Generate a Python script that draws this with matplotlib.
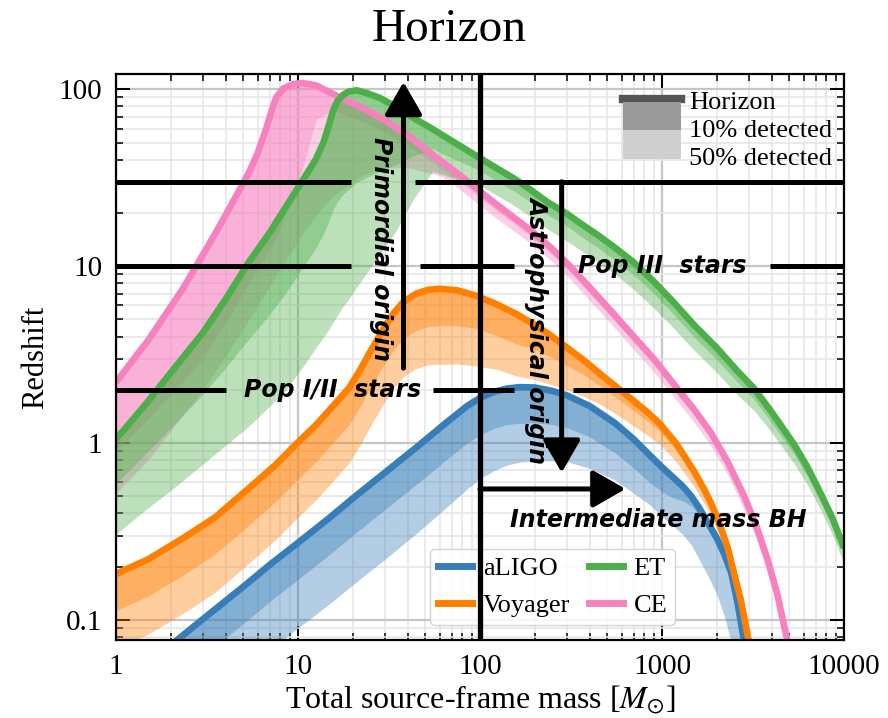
import matplotlib
matplotlib.use('Agg')
import matplotlib.pyplot as plt
from matplotlib.lines import Line2D
from matplotlib.patches import Patch, Rectangle
from matplotlib.legend_handler import HandlerPatch

plt.rcParams['font.family'] = ['Liberation Serif', 'DejaVu Serif']
plt.rcParams['mathtext.fontset'] = 'stix'

# ---------------- data ----------------
detectors = ['aLIGO', 'Voyager', 'ET', 'CE']
colors = {'aLIGO': '#377eb8', 'Voyager': '#ff7f00', 'ET': '#4daf4a', 'CE': '#f781bf'}

aligo_mass = [2, 3, 5, 7, 10, 15, 20, 30, 45, 65, 85, 100, 120, 140, 165, 200, 250, 300, 400, 550, 700, 850,
              1000, 1150, 1300, 1450, 1600, 1800, 2000, 2200, 2400, 2600, 2800, 3000]
aligo_horizon = [0.072, 0.101, 0.154, 0.205, 0.273, 0.38, 0.487, 0.68, 0.95, 1.30, 1.62, 1.80, 1.95, 2.03, 2.07,
                 2.06, 1.97, 1.86, 1.62, 1.30, 1.05, 0.86, 0.73, 0.64, 0.57, 0.50, 0.43, 0.35, 0.29, 0.235, 0.185,
                 0.125, 0.08, 0.058]
aligo_det10 = [0.0444, 0.0623, 0.095, 0.127, 0.169, 0.235, 0.30, 0.42, 0.586, 0.80, 1.0, 1.11, 1.21, 1.27, 1.29,
               1.30, 1.27, 1.22, 1.08, 0.88, 0.72, 0.60, 0.53, 0.49, 0.47, 0.44, 0.39, 0.32, 0.265, 0.215, 0.17,
               0.115, 0.074, 0.054]
aligo_det50 = [0.024, 0.0335, 0.051, 0.068, 0.090, 0.124, 0.158, 0.22, 0.31, 0.43, 0.55, 0.63, 0.70, 0.75, 0.78,
               0.79, 0.795, 0.785, 0.72, 0.62, 0.52, 0.45, 0.385, 0.34, 0.305, 0.265, 0.22, 0.175, 0.14, 0.105,
               0.075, 0.055, 0.04, 0.03]

voyager_mass = [1, 1.5, 2.34, 3.5, 5.39, 7.5, 9.78, 12.6, 15, 19.1, 22, 25, 29, 33.4, 38, 44.7, 52, 60, 75, 95.6,
                125, 159, 197, 245, 303, 370, 460, 570, 699, 840, 984, 1200, 1496, 1700, 1855, 2050, 2300, 2500,
                2710, 2850, 3000]
voyager_horizon = [0.182, 0.22, 0.29, 0.38, 0.557, 0.75, 0.987, 1.27, 1.55, 2.05, 2.6, 3.3, 4.3, 5.4, 6.3, 7.0,
                   7.35, 7.45, 7.3, 6.8, 6.05, 5.35, 4.7, 4.05, 3.44, 2.95, 2.45, 2.05, 1.73, 1.48, 1.27, 0.99,
                   0.695, 0.55, 0.46, 0.36, 0.255, 0.18, 0.13, 0.1, 0.075]
voyager_det10 = [0.1125, 0.136, 0.179, 0.235, 0.344, 0.464, 0.61, 0.785, 0.958, 1.267, 1.607, 2.04, 2.66, 3.34,
                 3.89, 4.33, 4.54, 4.6, 4.6, 4.43, 4.01, 3.62, 3.40, 3.07, 2.72, 2.43, 2.09, 1.78, 1.52, 1.32,
                 1.145, 0.90, 0.643, 0.513, 0.43, 0.336, 0.238, 0.168, 0.121, 0.093, 0.07]
voyager_det50 = [0.0687, 0.083, 0.109, 0.143, 0.21, 0.283, 0.372, 0.479, 0.585, 0.774, 0.98, 1.245, 1.62, 2.04,
                 2.38, 2.64, 2.77, 2.79, 2.8, 2.73, 2.6, 2.39, 2.3, 2.14, 1.99, 1.84, 1.65, 1.44, 1.25, 1.1, 0.98,
                 0.78, 0.57, 0.458, 0.39, 0.305, 0.22, 0.156, 0.114, 0.088, 0.066]

et_mass = [1, 1.5, 2, 3, 4, 5.39, 7, 8.3, 10.7, 12.5, 13.8, 14.8, 15.6, 16.5, 17.7, 19, 21, 24, 28.4, 35, 43, 55,
           66, 80, 100, 125, 153, 190, 235, 300, 370, 443, 550, 700, 900, 1150, 1500, 2000, 2600, 3200, 4000,
           5300, 6300, 7470, 8700, 10000]
et_horizon = [1.05, 1.72, 2.5, 4.2, 6.5, 10.6, 15.5, 20.5, 31, 40, 50, 63, 76, 86, 93, 97, 98.6, 95, 89, 79, 69,
              59.5, 53, 47, 40.8, 35.5, 31.4, 27, 23, 19.8, 17, 15, 12.75, 10.5, 8.2, 6.3, 4.65, 3.45, 2.55, 2.04,
              1.5, 0.987, 0.73, 0.515, 0.37, 0.255]
et_det10 = [0.589, 0.897, 1.216, 1.88, 2.66, 3.88, 5.36, 6.73, 9.88, 12.6, 15.2, 18.0, 20.8, 23.2, 25.5, 27.2,
            29.6, 31.8, 34.4, 37.6, 41.9, 46, 41.9, 38.5, 34.6, 30.0, 26.6, 22.9, 19.5, 16.8, 14.4, 12.7, 10.8,
            8.9, 7.0, 5.38, 3.97, 2.95, 2.2, 1.77, 1.3, 0.866, 0.646, 0.46, 0.333, 0.232]
et_det50 = [0.306, 0.43, 0.54, 0.76, 0.97, 1.25, 1.62, 1.92, 2.72, 3.44, 3.97, 4.41, 4.83, 5.29, 5.94, 6.5, 7.6,
            9.25, 11.8, 16.2, 23.9, 34.4, 32.2, 30.6, 28.7, 25, 22.1, 19.0, 16.2, 13.9, 12.0, 10.6, 9.0, 7.4, 5.8,
            4.5, 3.35, 2.5, 1.87, 1.53, 1.15, 0.77, 0.58, 0.415, 0.3, 0.207]

ce_mass = [1, 1.5, 2.34, 3, 3.55, 4.3, 5.39, 6.0, 6.69, 7.2, 7.6, 8.3, 9.4, 10.5, 12.6, 15.6, 22.9, 30, 40, 60.6,
           75, 85, 120, 189, 250, 315, 400, 523, 700, 900, 1230, 1500, 1850, 2300, 2830, 3300, 3800, 4300, 4900]
ce_horizon = [2.21, 3.8, 7.5, 11.6, 15.6, 22.2, 34, 43.5, 60, 77, 90, 101, 107, 108.5, 105, 94, 78, 67, 55, 39.5,
              33.5, 30.3, 22.8, 16.0, 12.5, 9.9, 7.6, 5.6, 4.0, 3.0, 2.0, 1.55, 1.15, 0.78, 0.5, 0.34, 0.22, 0.14,
              0.075]
ce_det10 = [0.9, 1.37, 2.24, 2.98, 4.0, 5.4, 8.0, 9.6, 11.5, 13.1, 14.6, 18, 26.5, 34.4, 67.7, 76, 65, 57, 48,
            35.6, 30.5, 27.8, 21, 14.8, 11.6, 9.2, 7.0, 5.2, 3.7, 2.78, 1.85, 1.44, 1.06, 0.72, 0.46, 0.315, 0.204,
            0.13, 0.069]
ce_det50 = [0.52, 0.8, 1.45, 2.0, 2.6, 3.5, 5.0, 6.0, 7.2, 8.1, 8.9, 10.3, 12.5, 15, 19.5, 25, 33, 36, 36, 32.4,
            27.9, 25.2, 19, 13.5, 10.6, 8.4, 6.4, 4.73, 3.38, 2.53, 1.69, 1.31, 0.97, 0.66, 0.42, 0.287, 0.186,
            0.118, 0.063]

xticks = [1, 10, 100, 1000, 10000]
xticklabels = ['1', '10', '100', '1000', '10000']
yticks = [0.1, 1, 10, 100]
yticklabels = ['0.1', '1', '10', '100']

series = {
    'aLIGO': (aligo_mass, aligo_horizon, aligo_det10, aligo_det50),
    'Voyager': (voyager_mass, voyager_horizon, voyager_det10, voyager_det50),
    'ET': (et_mass, et_horizon, et_det10, et_det50),
    'CE': (ce_mass, ce_horizon, ce_det10, ce_det50),
}

# ---------------- figure ----------------
W, H = 888, 718
fig = plt.figure(figsize=(W / 100, H / 100), dpi=100)
L, R, T, B = 116, 844, 74, 640
ax = fig.add_axes([L / W, 1 - B / H, (R - L) / W, (B - T) / H])
ax.set_xscale('log')
ax.set_yscale('log')
ax.set_xlim(1, 1e4)
ax.set_ylim(0.077, 122)

ax.set_axisbelow(True)
ax.grid(which='major', color='#c6c6c6', lw=1.6)
ax.grid(which='minor', color='#e6e6e6', lw=1.2)

for det in ['aLIGO', 'Voyager', 'CE', 'ET']:
    m, zh, z10, z50 = series[det]
    c = colors[det]
    ax.fill_between(m, z10, z50, color=c, alpha=0.38, lw=0)
    ax.fill_between(m, zh, z10, color=c, alpha=0.62, lw=0)
    ax.plot(m, zh, color=c, lw=4.8, solid_capstyle='butt', solid_joinstyle='round')

# ---------------- annotations ----------------
klw = 3.6
kw = dict(color='k', lw=klw, solid_capstyle='butt', zorder=6)
ax.axvline(100, color='k', lw=3.8, zorder=6)
# z = 30
ax.plot([1, 19.6], [30, 30], **kw)
ax.plot([44, 1e4], [30, 30], **kw)
# z = 10
ax.plot([1, 19.6], [10, 10], **kw)
ax.plot([47, 153], [10, 10], **kw)
ax.plot([3900, 1e4], [10, 10], **kw)
# z = 2
ax.plot([1, 4.0], [2, 2], **kw)
ax.plot([55.5, 153], [2, 2], **kw)
ax.plot([323, 1e4], [2, 2], **kw)

aprops = dict(arrowstyle='-|>,head_length=2.0,head_width=1.15', mutation_scale=10,
              color='k', lw=klw, shrinkA=0, shrinkB=0)
ax.annotate('', xy=(38, 110), xytext=(38, 2.65), arrowprops=aprops, zorder=6)
ax.annotate('', xy=(281, 0.68), xytext=(281, 30), arrowprops=aprops, zorder=6)
ax.annotate('', xy=(630, 0.55), xytext=(100, 0.55), arrowprops=aprops, zorder=6)

tkw = dict(family='DejaVu Sans', fontweight='bold', fontstyle='italic', fontsize=17,
           ha='center', va='center', zorder=7)
ax.text(1010, 10, 'Pop III  stars', **tkw)
ax.text(15.4, 2, 'Pop I/II  stars', **tkw)
ax.text(948, 0.367, 'Intermediate mass BH', **tkw)
ax.text(28.4, 12.5, 'Primordial origin', rotation=270, **tkw)
ax.text(207, 4.4, 'Astrophysical origin', rotation=270, **tkw)

# ---------------- axes styling ----------------
ax.set_xticks(xticks)
ax.set_xticklabels(xticklabels)
ax.set_yticks(yticks)
ax.set_yticklabels(yticklabels)
ax.tick_params(which='both', direction='in', top=True, right=True)
ax.tick_params(which='major', length=10, width=1.4, labelsize=21, pad=10)
ax.tick_params(which='minor', length=5, width=1.1)
for s in ax.spines.values():
    s.set_linewidth(1.6)

ax.set_xlabel(r'Total source-frame mass [$M_{\odot}$]', fontsize=23, labelpad=3)
ax.set_ylabel('Redshift', fontsize=22, labelpad=6)
fig.text(449.5 / W, 1 - 30 / H, 'Horizon', fontsize=34, ha='center', va='center')

# legend: detectors
det_handles = [Line2D([], [], color=colors[d], lw=5) for d in detectors]
leg1 = ax.legend(det_handles, detectors, ncol=2, fontsize=19, handlelength=1.3,
                 handletextpad=0.4, columnspacing=0.7, labelspacing=0.5,
                 loc='lower left', bbox_to_anchor=((430 - L) / (R - L), (B - 625) / (B - T)),
                 borderaxespad=0, frameon=True, fancybox=True, edgecolor='#cccccc',
                 framealpha=0.85, borderpad=0.3)
ax.add_artist(leg1)


# legend: band meaning (patches stacked right under the horizon bar)
def stacked_patch(legend, orig_handle, xdescent, ydescent, width, height, fontsize):
    return Rectangle((-xdescent, -ydescent + 0.225 * fontsize), width, 1.08 * fontsize)


kind_handles = [Line2D([], [], color='#555555', lw=6),
                Patch(facecolor='#9a9a9a', edgecolor='none'),
                Patch(facecolor='#cfcfcf', edgecolor='none')]
leg2 = ax.legend(kind_handles, ['Horizon', '10% detected', '50% detected'], loc='upper right',
                 bbox_to_anchor=(1 - 1.4 / (R - L), 1 - 5.6 / (B - T)),
                 fontsize=19, frameon=False, labelspacing=0.17, handlelength=2.2,
                 handleheight=0.7, handletextpad=0.3, borderaxespad=0,
                 handler_map={Patch: HandlerPatch(patch_func=stacked_patch)})

fig.savefig('out.png', dpi=100)
